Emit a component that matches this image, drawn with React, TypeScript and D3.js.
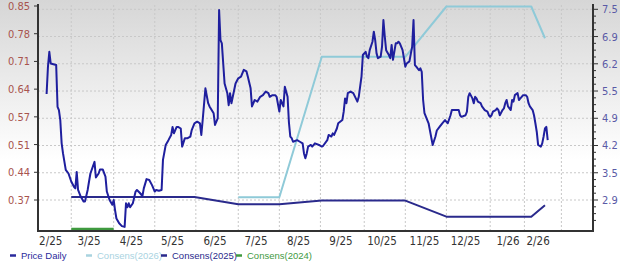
import React from "react";
import * as d3 from "d3";

// ---------- data ----------
const priceSeries: [string, number][] = [
  ["2025-01-29",0.631],["2025-01-30",0.699],["2025-01-31",0.736],["2025-02-01",0.707],
  ["2025-02-05",0.703],["2025-02-06",0.599],["2025-02-07",0.591],["2025-02-08",0.566],
  ["2025-02-09",0.508],["2025-02-10",0.483],["2025-02-12",0.442],["2025-02-14",0.433],
  ["2025-02-16",0.413],["2025-02-18",0.400],["2025-02-19",0.396],["2025-02-20",0.437],
  ["2025-02-21",0.392],["2025-02-23",0.375],["2025-02-25",0.363],["2025-02-26",0.363],
  ["2025-02-28",0.392],["2025-03-01",0.413],["2025-03-02",0.433],["2025-03-05",0.462],
  ["2025-03-06",0.423],["2025-03-08",0.433],["2025-03-09",0.443],["2025-03-11",0.443],
  ["2025-03-13",0.425],["2025-03-14",0.388],["2025-03-16",0.367],["2025-03-18",0.355],
  ["2025-03-19",0.367],["2025-03-20",0.342],["2025-03-21",0.321],["2025-03-23",0.309],
  ["2025-03-25",0.302],["2025-03-27",0.300],["2025-03-28",0.359],["2025-03-29",0.349],
  ["2025-03-30",0.359],["2025-03-31",0.349],["2025-04-02",0.359],["2025-04-04",0.388],
  ["2025-04-05",0.392],["2025-04-07",0.385],["2025-04-09",0.377],["2025-04-10",0.396],
  ["2025-04-12",0.419],["2025-04-14",0.417],["2025-04-16",0.404],["2025-04-18",0.388],
  ["2025-04-19",0.392],["2025-04-21",0.390],["2025-04-23",0.392],["2025-04-24",0.467],
  ["2025-04-26",0.504],["2025-04-28",0.516],["2025-04-30",0.529],["2025-05-01",0.549],
  ["2025-05-02",0.533],["2025-05-04",0.549],["2025-05-05",0.549],["2025-05-07",0.545],
  ["2025-05-08",0.500],["2025-05-10",0.521],["2025-05-12",0.521],["2025-05-14",0.525],
  ["2025-05-15",0.541],["2025-05-17",0.558],["2025-05-19",0.562],["2025-05-21",0.558],
  ["2025-05-22",0.529],["2025-05-23",0.566],["2025-05-25",0.645],["2025-05-27",0.608],
  ["2025-05-28",0.600],["2025-05-31",0.583],["2025-06-01",0.554],["2025-06-03",0.570],
  ["2025-06-04",0.840],["2025-06-05",0.765],["2025-06-06",0.757],["2025-06-08",0.657],
  ["2025-06-10",0.633],["2025-06-11",0.603],["2025-06-12",0.633],["2025-06-13",0.608],
  ["2025-06-16",0.657],["2025-06-18",0.670],["2025-06-20",0.674],["2025-06-22",0.691],
  ["2025-06-24",0.687],["2025-06-25",0.674],["2025-06-27",0.645],["2025-06-28",0.600],
  ["2025-06-30",0.616],["2025-07-02",0.612],["2025-07-04",0.624],["2025-07-06",0.628],
  ["2025-07-08",0.637],["2025-07-10",0.633],["2025-07-11",0.624],["2025-07-13",0.628],
  ["2025-07-15",0.628],["2025-07-16",0.624],["2025-07-18",0.587],["2025-07-19",0.616],
  ["2025-07-21",0.600],["2025-07-22",0.649],["2025-07-24",0.624],["2025-07-25",0.560],
  ["2025-07-26",0.525],["2025-07-27",0.521],["2025-07-28",0.512],["2025-07-31",0.516],
  ["2025-08-02",0.512],["2025-08-04",0.508],["2025-08-05",0.483],["2025-08-06",0.471],
  ["2025-08-07",0.483],["2025-08-08",0.500],["2025-08-10",0.504],["2025-08-11",0.500],
  ["2025-08-13",0.508],["2025-08-16",0.504],["2025-08-18",0.500],["2025-08-19",0.502],
  ["2025-08-22",0.516],["2025-08-23",0.529],["2025-08-25",0.525],["2025-08-26",0.533],
  ["2025-08-27",0.529],["2025-08-28",0.537],["2025-08-29",0.545],["2025-08-30",0.558],
  ["2025-09-02",0.566],["2025-09-03",0.587],["2025-09-04",0.620],["2025-09-05",0.608],
  ["2025-09-06",0.633],["2025-09-08",0.637],["2025-09-10",0.633],["2025-09-13",0.612],
  ["2025-09-14",0.624],["2025-09-15",0.649],["2025-09-16",0.674],["2025-09-17",0.728],
  ["2025-09-19",0.736],["2025-09-20",0.724],["2025-09-21",0.720],["2025-09-22",0.740],
  ["2025-09-24",0.761],["2025-09-25",0.786],["2025-09-26",0.765],["2025-09-27",0.732],
  ["2025-09-28",0.720],["2025-09-30",0.724],["2025-10-01",0.749],["2025-10-02",0.815],
  ["2025-10-03",0.774],["2025-10-04",0.740],["2025-10-06",0.728],["2025-10-07",0.720],
  ["2025-10-08",0.753],["2025-10-09",0.716],["2025-10-11",0.757],["2025-10-12",0.757],
  ["2025-10-13",0.761],["2025-10-14",0.757],["2025-10-16",0.740],["2025-10-17",0.720],
  ["2025-10-18",0.699],["2025-10-19",0.707],["2025-10-21",0.712],["2025-10-23",0.749],
  ["2025-10-24",0.815],["2025-10-25",0.703],["2025-10-26",0.699],["2025-10-28",0.690],
  ["2025-10-29",0.695],["2025-10-30",0.686],["2025-10-31",0.616],["2025-11-01",0.583],
  ["2025-11-04",0.558],["2025-11-07",0.504],["2025-11-09",0.525],["2025-11-10",0.540],
  ["2025-11-12",0.549],["2025-11-14",0.558],["2025-11-16",0.566],["2025-11-18",0.558],
  ["2025-11-20",0.578],["2025-11-21",0.591],["2025-11-23",0.591],["2025-11-26",0.591],
  ["2025-11-27",0.578],["2025-11-28",0.574],["2025-12-01",0.578],["2025-12-02",0.587],
  ["2025-12-03",0.624],["2025-12-04",0.633],["2025-12-06",0.620],["2025-12-07",0.608],
  ["2025-12-08",0.624],["2025-12-09",0.620],["2025-12-10",0.612],["2025-12-12",0.608],
  ["2025-12-13",0.600],["2025-12-15",0.591],["2025-12-17",0.587],["2025-12-18",0.578],
  ["2025-12-19",0.574],["2025-12-20",0.578],["2025-12-21",0.587],["2025-12-23",0.591],
  ["2025-12-24",0.595],["2025-12-25",0.591],["2025-12-26",0.578],["2025-12-28",0.591],
  ["2025-12-29",0.595],["2025-12-30",0.608],["2025-12-31",0.616],["2026-01-01",0.600],
  ["2026-01-03",0.591],["2026-01-04",0.616],["2026-01-05",0.612],["2026-01-06",0.628],
  ["2026-01-08",0.633],["2026-01-09",0.616],["2026-01-10",0.620],["2026-01-11",0.624],
  ["2026-01-12",0.628],["2026-01-14",0.628],["2026-01-15",0.624],["2026-01-16",0.608],
  ["2026-01-17",0.600],["2026-01-19",0.591],["2026-01-20",0.578],["2026-01-21",0.558],
  ["2026-01-22",0.537],["2026-01-23",0.504],["2026-01-25",0.500],["2026-01-26",0.508],
  ["2026-01-27",0.525],["2026-01-28",0.545],["2026-01-29",0.549],["2026-01-30",0.516],
];

const consens2026: [string, number][] = [
  ["2025-06-18",2.95],["2025-07-18",2.95],["2025-08-18",6.36],["2025-10-18",6.36],
  ["2025-11-17",7.58],["2026-01-18",7.58],["2026-01-28",6.81],
];
const consens2025: [string, number][] = [
  ["2025-02-16",2.96],["2025-05-17",2.96],["2025-06-18",2.78],["2025-07-18",2.78],
  ["2025-08-18",2.87],["2025-10-18",2.87],["2025-11-17",2.48],["2026-01-18",2.48],
  ["2026-01-28",2.76],
];
const consens2024: [string, number][] = [
  ["2025-02-16",2.18],["2025-03-19",2.18],
];

const xTickLabels = ["2/25","3/25","4/25","5/25","6/25","7/25","8/25","9/25","10/25","11/25","12/25","1/26","2/26"];
const xTickDates = ["2025-02-01","2025-03-01","2025-04-01","2025-05-01","2025-06-01","2025-07-01","2025-08-01","2025-09-01","2025-10-01","2025-11-01","2025-12-01","2026-01-01","2026-01-23"];
const xGridDates = ["2025-02-16","2025-03-19","2025-04-18","2025-05-18","2025-06-18","2025-07-18","2025-08-17","2025-09-18","2025-10-18","2025-11-17","2025-12-19","2026-01-13","2026-02-09"];

const leftTickLabels = ["0.37","0.44","0.51","0.57","0.64","0.71","0.78","0.85"];
const leftTickStart = 0.367;
const leftTickStep = 0.069;
const rightTickLabels = ["2.9","3.5","4.2","4.9","5.5","6.2","6.9","7.5"];
const rightTickStart = 2.885;
const rightTickStep = 0.661;

const legendItems = [
  { label: "Price Daily", color: "#2a2a9c" },
  { label: "Consens(2026)", color: "#a9d3df" },
  { label: "Consens(2025)", color: "#2a2a8c" },
  { label: "Consens(2024)", color: "#3f9a3f" },
];

// ---------- chart ----------
const W = 620, H = 267;
const plotLeft = 38, plotRight = 593, plotTop = 5, plotBottom = 231;

const parse = d3.utcParse("%Y-%m-%d");

export default function App() {
  const x = d3.scaleUtc()
    .domain([parse("2025-02-01")!, parse("2026-01-01")!])
    .range([50.7, 508]);
  const yL = d3.scaleLinear().domain([0.367, 0.85]).range([200, 6]);
  const yR = d3.scaleLinear().domain([2.885, 7.512]).range([200, 9.3]);

  const lineL = d3.line<[string, number]>().x(d => x(parse(d[0])!)).y(d => yL(d[1]));
  const lineR = d3.line<[string, number]>().x(d => x(parse(d[0])!)).y(d => yR(d[1]));

  const leftTicks = leftTickLabels.map((l, i) => ({ l, v: leftTickStart + i * leftTickStep }));
  const rightTicks = rightTickLabels.map((l, i) => ({ l, v: rightTickStart + i * rightTickStep }));
  const minorTicks: number[] = [];
  for (let i = -1; i < 8; i++) {
    for (let k = 1; k < 4; k++) {
      const v = rightTickStart + (i + k / 4) * rightTickStep;
      const yy = yR(v);
      if (yy > plotTop && yy < plotBottom) minorTicks.push(yy);
    }
  }

  const axisFont = "'DejaVu Sans Condensed', 'DejaVu Sans', sans-serif";
  const legendX = [10, 86, 161, 236];

  return (
    <svg width={W} height={H} style={{ position: "absolute", left: 0, top: 0 }}
      xmlns="http://www.w3.org/2000/svg">
      <defs>
        <linearGradient id="bg" x1="0" y1="0" x2="0" y2="1">
          <stop offset="0" stopColor="#d6d6d6" />
          <stop offset="0.6" stopColor="#ffffff" />
          <stop offset="1" stopColor="#ffffff" />
        </linearGradient>
        <clipPath id="plot">
          <rect x={plotLeft} y={plotTop - 4} width={plotRight - plotLeft} height={plotBottom - plotTop + 3} />
        </clipPath>
      </defs>
      <rect x={0} y={0} width={W} height={H} fill="url(#bg)" />

      {/* grid */}
      {rightTicks.map(t => (
        <line key={"hg" + t.l} x1={plotLeft} x2={plotRight} y1={yR(t.v)} y2={yR(t.v)}
          stroke="#c8c8c8" strokeWidth={1} strokeDasharray="2,2" />
      ))}
      {xGridDates.map(d => (
        <line key={"vg" + d} x1={x(parse(d)!)} x2={x(parse(d)!)} y1={plotTop} y2={plotBottom}
          stroke="#c8c8c8" strokeWidth={1} strokeDasharray="2,2" />
      ))}

      {/* series */}
      <g clipPath="url(#plot)" fill="none" strokeLinejoin="round">
        <path d={lineR(consens2024) || ""} stroke="#3f9a3f" strokeWidth={2.5} />
        <path d={lineR(consens2026) || ""} stroke="#8fcad8" strokeWidth={2} />
        <path d={lineR(consens2025) || ""} stroke="#2a2a8c" strokeWidth={2} />
        <path d={lineL(priceSeries) || ""} stroke="#1f1f9e" strokeWidth={2} />
      </g>

      {/* axes */}
      <line x1={plotLeft} x2={plotLeft} y1={plotTop - 1} y2={plotBottom + 1} stroke="#333" strokeWidth={2} />
      <line x1={plotRight} x2={plotRight} y1={plotTop - 1} y2={plotBottom + 1} stroke="#333" strokeWidth={2} />
      <line x1={plotLeft - 1} x2={plotRight + 1} y1={plotBottom} y2={plotBottom} stroke="#333" strokeWidth={2} />

      {leftTicks.map(t => (
        <g key={"lt" + t.l}>
          <line x1={plotLeft - 4} x2={plotLeft} y1={yL(t.v)} y2={yL(t.v)} stroke="#333" strokeWidth={1} />
          <text x={30} y={yL(t.v)} dy="0.36em" textAnchor="end" fontFamily={axisFont}
            fontSize={11} fill="#a8544e">{t.l}</text>
        </g>
      ))}
      {rightTicks.map(t => (
        <g key={"rt" + t.l}>
          <line x1={plotRight} x2={plotRight + 5} y1={yR(t.v)} y2={yR(t.v)} stroke="#333" strokeWidth={1} />
          <text x={602} y={yR(t.v)} dy="0.36em" textAnchor="start" fontFamily={axisFont}
            fontSize={11} fill="#5a5aa6">{t.l}</text>
        </g>
      ))}
      {minorTicks.map((yy, i) => (
        <line key={"mt" + i} x1={plotRight} x2={plotRight + 3} y1={yy} y2={yy} stroke="#333" strokeWidth={1} />
      ))}

      {xTickLabels.map((l, i) => (
        <text key={"xt" + l} x={x(parse(xTickDates[i])!)} y={245} textAnchor="middle"
          fontFamily={axisFont} fontSize={11.5} fill="#333">{l}</text>
      ))}

      {/* legend */}
      {legendItems.map((it, i) => (
        <g key={it.label}>
          <line x1={legendX[i]} x2={legendX[i] + 6} y1={255.5} y2={255.5} stroke={it.color} strokeWidth={2.5} />
          <text x={legendX[i] + 11} y={259} fontFamily="'Liberation Sans', Arial, sans-serif"
            fontSize={9.5} fill={it.color}>{it.label}</text>
        </g>
      ))}
    </svg>
  );
}
